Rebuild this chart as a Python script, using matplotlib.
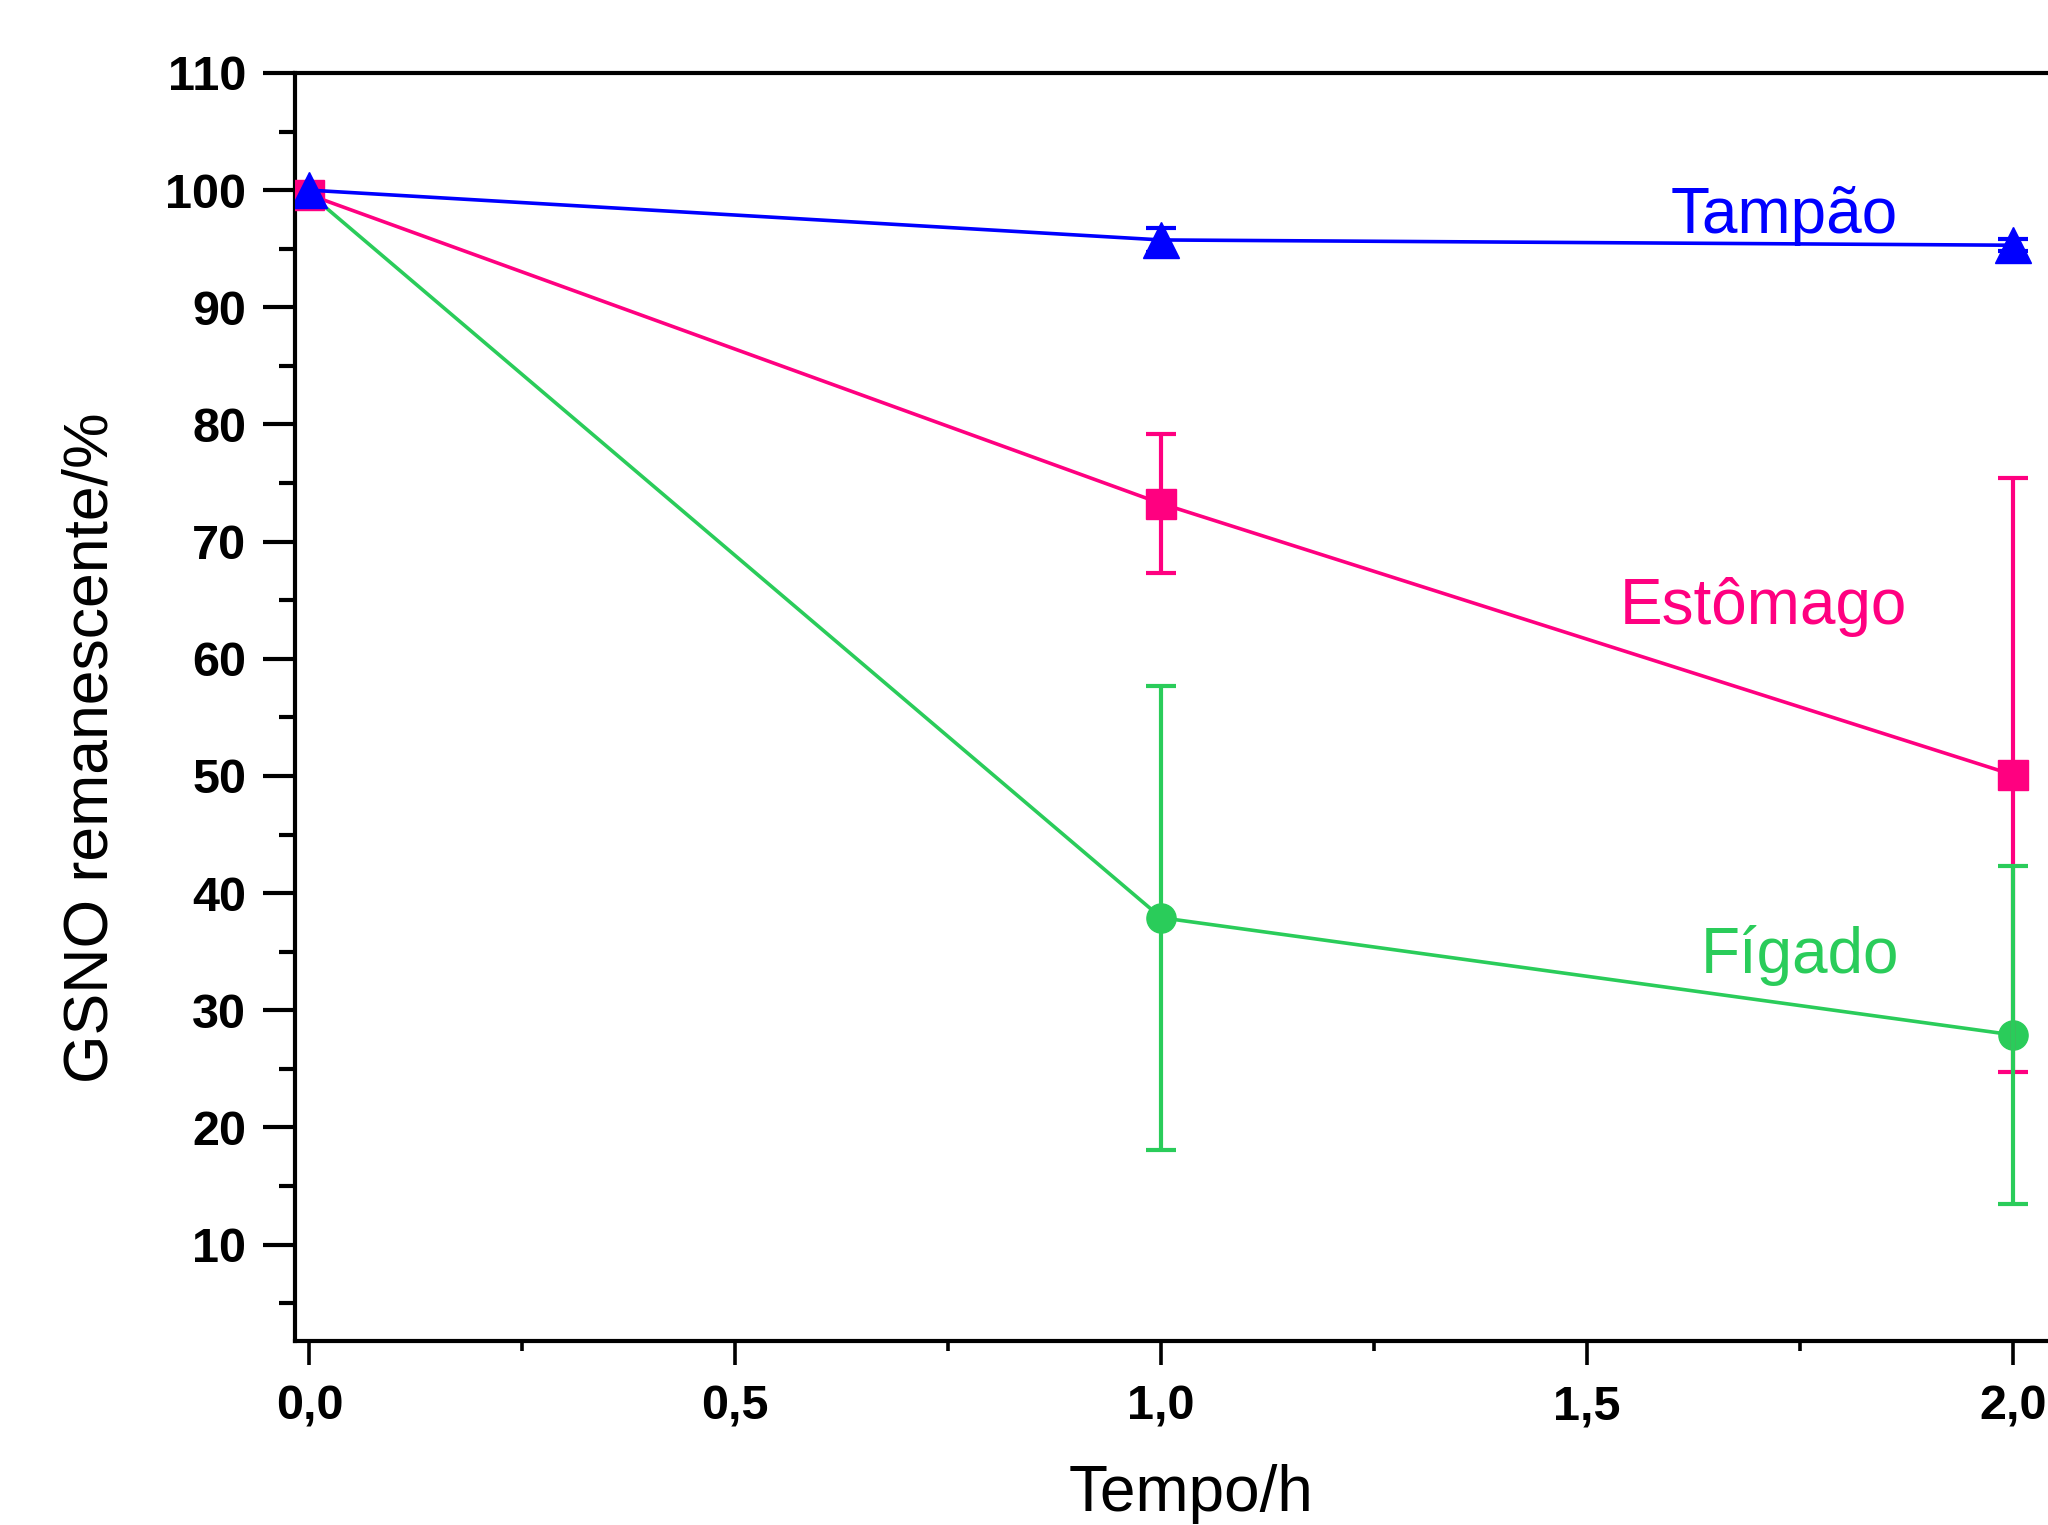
import numpy as np
import matplotlib
matplotlib.use("Agg")
import matplotlib.pyplot as plt
from matplotlib.ticker import FixedLocator, FixedFormatter

plt.rcParams['font.family'] = ['Liberation Sans', 'DejaVu Sans']

# data
tempo = [0.0, 1.0, 2.0]

tampao = [100.0, 95.75, 95.3]
tampao_err = [0.0, 1.0, 0.5]

estomago = [99.6, 73.25, 50.1]
estomago_err = [0.0, 5.9, 25.35]

figado = [99.7, 37.9, 27.9]
figado_err = [0.0, 19.8, 14.4]

x_ticks = [0.0, 0.5, 1.0, 1.5, 2.0]
x_tick_labels = ["0,0", "0,5", "1,0", "1,5", "2,0"]
x_minor = [0.25, 0.75, 1.25, 1.75]
y_ticks = [10, 20, 30, 40, 50, 60, 70, 80, 90, 100, 110]
y_tick_labels = [str(v) for v in y_ticks]
y_minor = [5, 15, 25, 35, 45, 55, 65, 75, 85, 95, 105]

blue = "#0000FF"
pink = "#FF0080"
green = "#2ACC5A"

fig = plt.figure(figsize=(20.48, 15.25), dpi=100)
ax = fig.add_axes([295 / 2048, 184 / 1525, (2064 - 295) / 2048, (1341 - 73) / 1525])

lw = 2.6
cap = 10.8

# green (Fígado) first, then pink, then blue on top
ax.plot(tempo, figado, color=green, lw=lw, marker="o", ms=21, zorder=3)
ax.errorbar(tempo[1:], estomago[1:], yerr=estomago_err[1:], fmt="none",
            ecolor=pink, elinewidth=3, capsize=cap, capthick=3, zorder=4)
ax.errorbar(tempo[1:], figado[1:], yerr=figado_err[1:], fmt="none",
            ecolor=green, elinewidth=3, capsize=cap, capthick=3, zorder=4)
ax.plot(tempo, estomago, color=pink, lw=lw, marker="s", ms=21, zorder=5)
ax.errorbar(tempo[1:], tampao[1:], yerr=tampao_err[1:], fmt="none",
            ecolor=blue, elinewidth=3, capsize=cap, capthick=3, zorder=6)
ax.plot(tempo, tampao, color=blue, lw=lw, marker="^", ms=26, zorder=7)

ax.text(1.598, 96.34, "Tampão", color=blue, fontsize=46, ha="left", va="baseline")
ax.text(1.538, 62.97, "Estômago", color=pink, fontsize=46, ha="left", va="baseline")
ax.text(1.633, 33.18, "Fígado", color=green, fontsize=46, ha="left", va="baseline")

ax.set_xlim(-0.017, 2.06)
ax.set_ylim(1.77, 110)

ax.xaxis.set_major_locator(FixedLocator(x_ticks))
ax.xaxis.set_major_formatter(FixedFormatter(x_tick_labels))
ax.xaxis.set_minor_locator(FixedLocator(x_minor))
ax.yaxis.set_major_locator(FixedLocator(y_ticks))
ax.yaxis.set_major_formatter(FixedFormatter(y_tick_labels))
ax.yaxis.set_minor_locator(FixedLocator(y_minor))

for s in ax.spines.values():
    s.set_linewidth(3)
ax.tick_params(axis="y", which="major", direction="out", length=23, width=3,
               labelsize=35, pad=12)
ax.tick_params(axis="y", which="minor", direction="out", length=11.5, width=3)
ax.tick_params(axis="x", which="major", direction="out", length=17, width=2.6,
               labelsize=35, pad=14)
ax.tick_params(axis="x", which="minor", direction="out", length=7.5, width=2.6)
for lab in ax.get_xticklabels() + ax.get_yticklabels():
    lab.set_fontweight("bold")

fig.text(1191 / 2048, 14 / 1525, "Tempo/h", fontsize=46, ha="center", va="baseline")
fig.text(108 / 2048, (1525 - 748) / 1525, "GSNO remanescente/%", fontsize=45,
         rotation=90, rotation_mode="anchor", ha="center", va="baseline")

fig.savefig("out.png", dpi=100)
